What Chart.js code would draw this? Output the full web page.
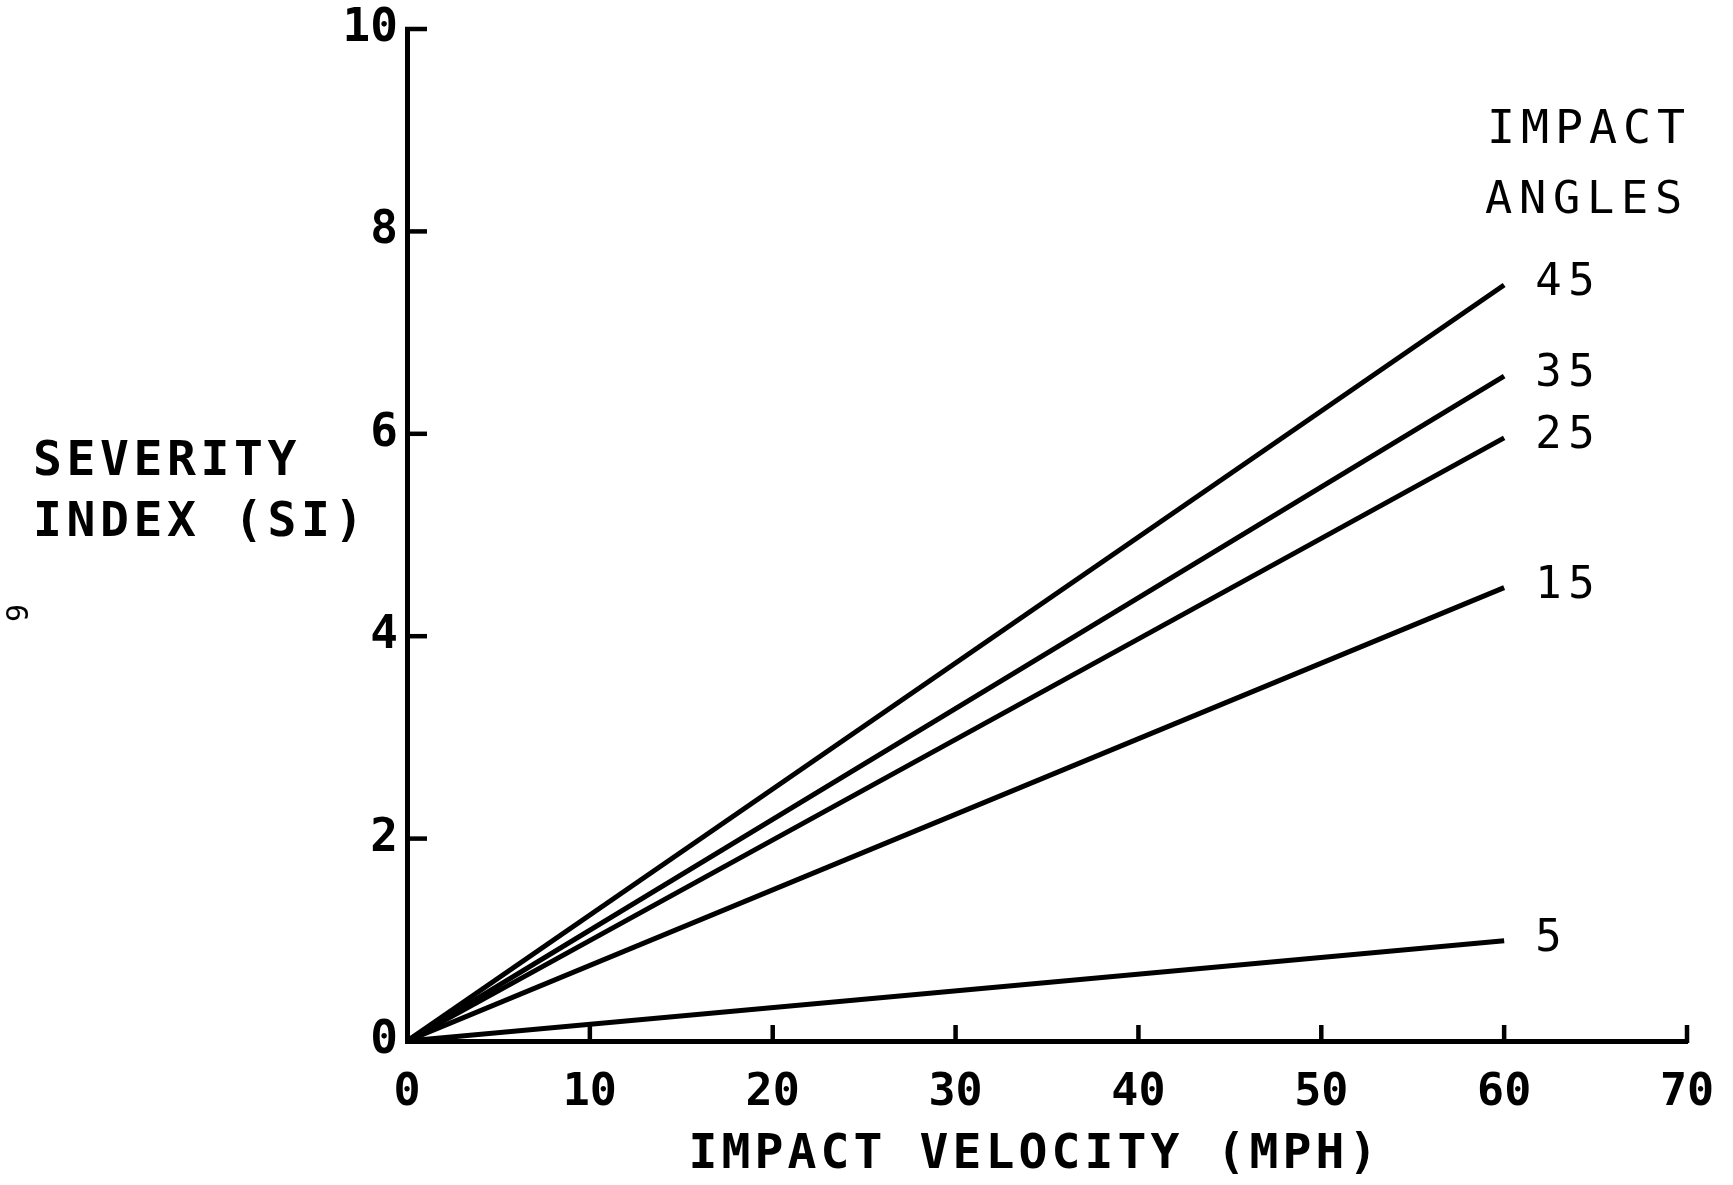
<!DOCTYPE html>
<html>
<head>
<meta charset="utf-8">
<script src="https://cdn.jsdelivr.net/npm/chart.js@4/dist/chart.umd.min.js"></script>
<style>
  html, body { margin: 0; padding: 0; background: #fff; }
  #wrap { width: 1733px; height: 1185px; position: relative; }
</style>
</head>
<body>
<div id="wrap"><canvas id="c" width="1733" height="1185"></canvas></div>
<script>
// ---- data ----
const velocities = [0, 60];                 // impact velocity (mph)
const angleLabels = ['45', '35', '25', '15', '5'];  // impact angles
const si45 = [0, 7.47];
const si35 = [0, 6.57];
const si25 = [0, 5.96];
const si15 = [0, 4.48];
const si5  = [0, 0.99];
const xTickValues = [0, 10, 20, 30, 40, 50, 60, 70];
const yTickValues = [0, 2, 4, 6, 8, 10];
const xTitle = 'IMPACT VELOCITY (MPH)';
const yTitleLines = ['SEVERITY', 'INDEX (SI)'];
const legendTitleLines = ['IMPACT', 'ANGLES'];
const pageMark = '9';

const seriesValues = [si45, si35, si25, si15, si5];

const datasets = seriesValues.map((vals, i) => ({
  label: angleLabels[i],
  data: velocities.map((v, j) => ({ x: v, y: vals[j] })),
  borderColor: '#000',
  borderWidth: 5,
  pointRadius: 0,
  fill: false,
  tension: 0
}));

const FONT = '"DejaVu Sans Mono", monospace';

function plotText(ctx, str, x, baseline, capH, advance, weight, align) {
  const fs = capH / 0.729;
  ctx.save();
  ctx.font = `${weight} ${fs}px ${FONT}`;
  const natural = 0.602 * fs;
  let sx = 1, ls = 0;
  if (advance >= natural) ls = advance - natural; else sx = advance / natural;
  ctx.letterSpacing = ls + 'px';
  ctx.textBaseline = 'alphabetic';
  ctx.textAlign = 'left';
  ctx.fillStyle = '#000';
  const w = (ctx.measureText(str).width - ls) * sx;
  let left = x;
  if (align === 'center') left = x - w / 2;
  ctx.translate(left, baseline);
  ctx.scale(sx, 1);
  ctx.fillText(str, 0, 0);
  ctx.restore();
}

const decorPlugin = {
  id: 'decor',
  afterDraw(chart) {
    const ctx = chart.ctx;
    const xs = chart.scales.x, ys = chart.scales.y;
    const area = chart.chartArea;
    ctx.save();
    ctx.strokeStyle = '#000';
    ctx.lineWidth = 4.5;
    ctx.lineCap = 'butt';
    // inward tick marks on y axis
    yTickValues.forEach(v => {
      if (v === 0) return;
      const py = ys.getPixelForValue(v);
      ctx.beginPath();
      ctx.moveTo(area.left - 2, py);
      ctx.lineTo(area.left + 20, py);
      ctx.stroke();
    });
    // inward tick marks on x axis
    xTickValues.forEach(v => {
      if (v === 0) return;
      const px = xs.getPixelForValue(v);
      ctx.beginPath();
      ctx.moveTo(px, area.bottom + 2);
      ctx.lineTo(px, area.bottom - 16);
      ctx.stroke();
    });
    ctx.restore();

    // series end labels
    seriesValues.forEach((vals, i) => {
      const n = vals.length - 1;
      const px = xs.getPixelForValue(velocities[n]);
      const py = ys.getPixelForValue(vals[n]);
      plotText(ctx, angleLabels[i], px + 31, py + 10, 32, 33, 'normal', 'left');
    });

    // legend header
    plotText(ctx, legendTitleLines[0], 1487, 143, 34, 34, 'normal', 'left');
    plotText(ctx, legendTitleLines[1], 1485, 213, 33, 34, 'normal', 'left');

    // y title (horizontal, two lines)
    plotText(ctx, yTitleLines[0], 33, 475, 35, 33.5, 'bold', 'left');
    plotText(ctx, yTitleLines[1], 33, 536, 35, 33.5, 'bold', 'left');

    // x title
    plotText(ctx, xTitle, 1033, 1168, 35, 33, 'bold', 'center');

    // page mark, rotated
    ctx.save();
    ctx.translate(20, 613);
    ctx.rotate(-Math.PI / 2);
    ctx.font = `normal 30px ${FONT}`;
    ctx.fillStyle = '#000';
    ctx.textAlign = 'center';
    ctx.textBaseline = 'middle';
    ctx.fillText(pageMark, 0, 0);
    ctx.restore();
  }
};

new Chart(document.getElementById('c'), {
  type: 'line',
  data: { datasets },
  plugins: [decorPlugin],
  options: {
    responsive: false,
    animation: false,
    devicePixelRatio: 1,
    layout: { autoPadding: false, padding: { top: 29, right: 46, left: 0, bottom: 0 } },
    plugins: { legend: { display: false }, tooltip: { enabled: false }, title: { display: false } },
    scales: {
      x: {
        type: 'linear',
        position: 'bottom',
        min: 0, max: 70,
        afterFit(scale) {
          scale.height = 144;
          scale.paddingLeft = 0; scale.paddingRight = 0;
        },
        afterBuildTicks(scale) { scale.ticks = xTickValues.map(v => ({ value: v })); },
        ticks: {
          color: '#000',
          padding: 25,
          maxRotation: 0,
          autoSkip: false,
          font: { family: FONT, size: 45, weight: 'bold' }
        },
        grid: { display: false, drawTicks: false },
        border: { display: true, color: '#000', width: 5 }
      },
      y: {
        type: 'linear',
        position: 'left',
        min: 0, max: 10,
        afterFit(scale) {
          scale.width = 407;
          scale.paddingTop = 0; scale.paddingBottom = 0;
        },
        afterBuildTicks(scale) { scale.ticks = yTickValues.map(v => ({ value: v })); },
        ticks: {
          color: '#000',
          padding: 9,
          font: { family: FONT, size: 46, weight: 'bold' }
        },
        grid: { display: false, drawTicks: false },
        border: { display: true, color: '#000', width: 5 }
      }
    }
  }
});
</script>
</body>
</html>
